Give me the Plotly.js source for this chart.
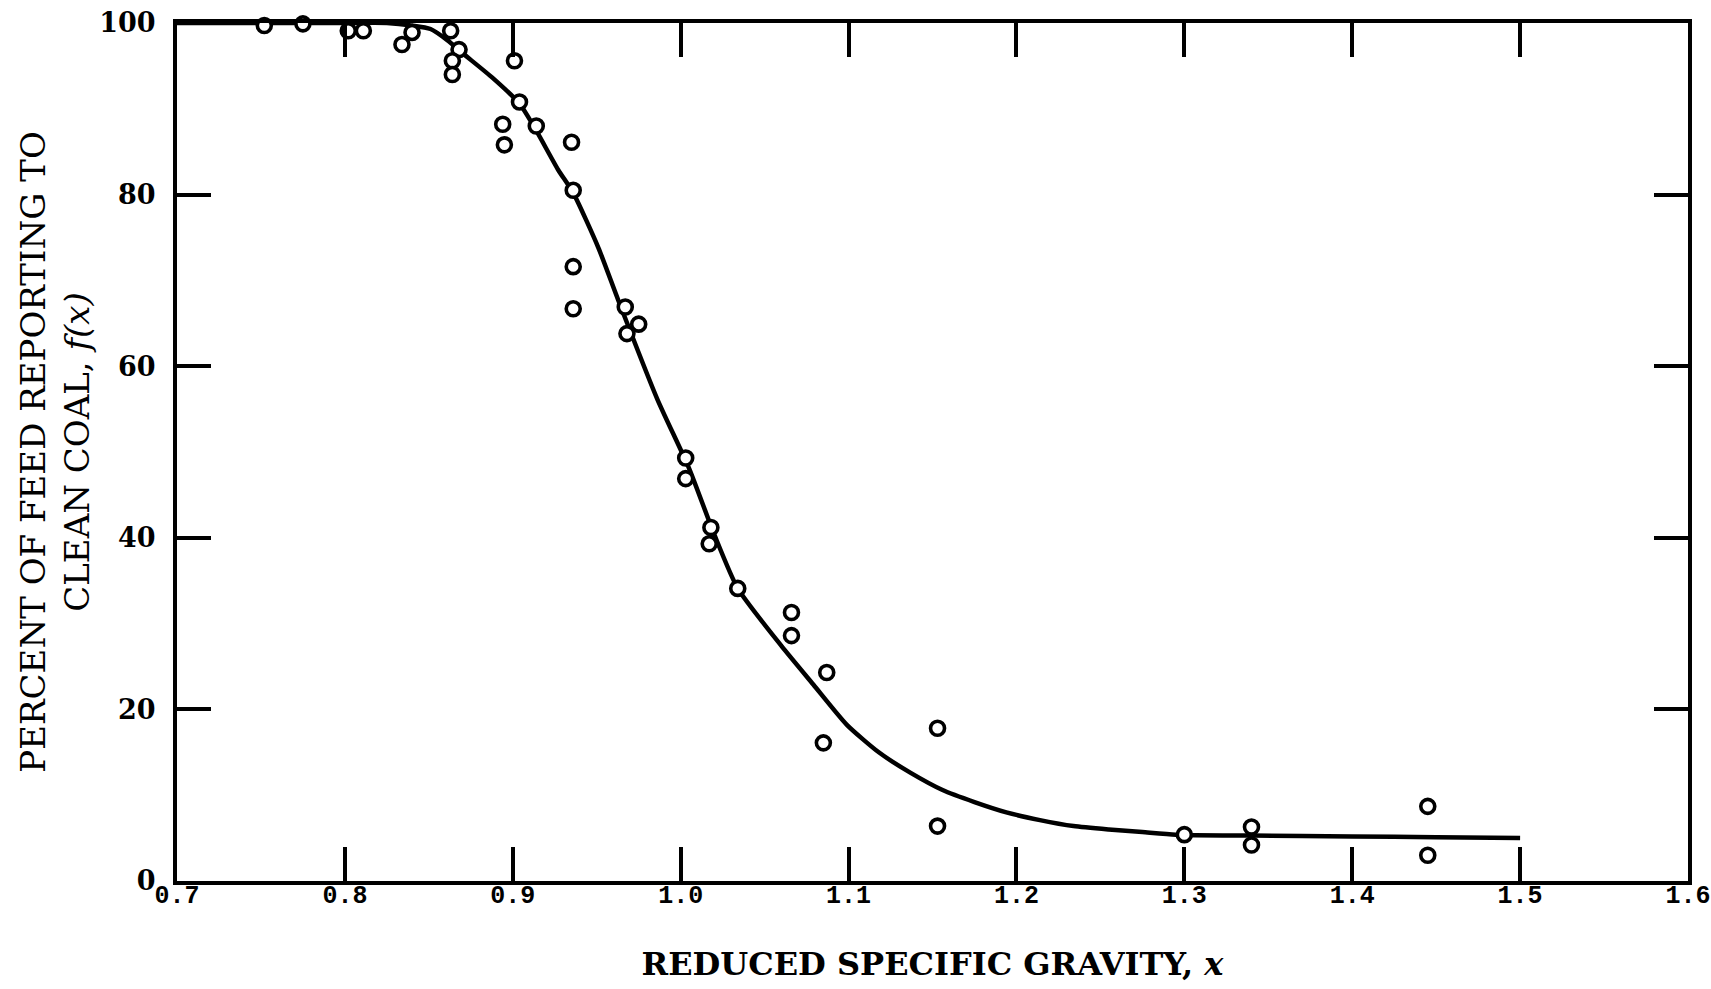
<!DOCTYPE html>
<html>
<head>
<meta charset="utf-8">
<script src="https://cdn.plot.ly/plotly-3.0.1.min.js"></script>
<style>
html,body{margin:0;padding:0;background:#ffffff;}
#chart{width:1711px;height:989px;}
</style>
</head>
<body>
<div id="chart"></div>
<script>
// Tick values and labels
const xTickVals = [0.7, 0.8, 0.9, 1.0, 1.1, 1.2, 1.3, 1.4, 1.5, 1.6];
const xTickLabels = ['0.7', '0.8', '0.9', '1.0', '1.1', '1.2', '1.3', '1.4', '1.5', '1.6'];
const yTickVals = [0, 20, 40, 60, 80, 100];
const yTickLabels = ['0', '20', '40', '60', '80', '100'];

// Measured data points (reduced specific gravity, percent of feed to clean coal)
const pointsX = [0.752, 0.775, 0.802, 0.802, 0.811, 0.834, 0.840, 0.834, 0.863, 0.868,
                 0.864, 0.864, 0.901, 0.904, 0.894, 0.914, 0.895, 0.935, 0.936, 0.936,
                 0.936, 0.967, 0.975, 0.968, 1.003, 1.003, 1.018, 1.017, 1.034, 1.066,
                 1.066, 1.087, 1.085, 1.153, 1.153, 1.300, 1.340, 1.340, 1.445, 1.445];
const pointsY = [99.7, 99.9, 100.5, 99.1, 99.1, 100.4, 98.9, 97.5, 99.1, 96.9,
                 95.6, 94.0, 95.6, 90.8, 88.2, 88.0, 85.8, 86.1, 80.5, 71.6,
                 66.7, 66.9, 64.9, 63.8, 49.3, 46.9, 41.2, 39.3, 34.1, 31.3,
                 28.6, 24.3, 16.1, 17.8, 6.4, 5.4, 6.3, 4.2, 8.7, 3.0];

// Fitted partition curve f(x)
const curveX = [0.70, 0.76, 0.80, 0.825, 0.840, 0.851, 0.861, 0.870, 0.888, 0.904,
                0.913, 0.927, 0.936, 0.951, 0.963, 0.986, 1.005, 1.020, 1.034, 1.060,
                1.079, 1.099, 1.118, 1.137, 1.156, 1.175, 1.194, 1.214, 1.234, 1.255,
                1.275, 1.295, 1.34, 1.40, 1.45, 1.50];
const curveY = [100, 100, 100, 100, 99.7, 99.3, 98.0, 96.5, 93.6, 90.6,
                87.8, 82.9, 80.2, 73.8, 67.6, 56.2, 48.1, 40.4, 34.1, 27.4,
                22.9, 18.2, 15.0, 12.6, 10.6, 9.2, 8.0, 7.1, 6.4, 6.0,
                5.7, 5.4, 5.3, 5.2, 5.1, 5.0];

const curve = {
  x: curveX, y: curveY,
  type: 'scatter', mode: 'lines',
  line: {color: '#000000', width: 4.5, shape: 'spline', smoothing: 0.6},
  hoverinfo: 'skip', showlegend: false, cliponaxis: false
};

const points = {
  x: pointsX, y: pointsY,
  type: 'scatter', mode: 'markers',
  marker: {symbol: 'circle', size: 14, color: '#ffffff', line: {color: '#000000', width: 3.6}},
  showlegend: false, cliponaxis: false
};

const axisCommon = {
  showgrid: false, zeroline: false,
  showline: true, linecolor: '#000000', linewidth: 4,
  mirror: 'ticks', ticks: 'inside', ticklen: 34, tickwidth: 4, tickcolor: '#000000',
  fixedrange: true
};

const layout = {
  width: 1711, height: 989,
  paper_bgcolor: '#ffffff', plot_bgcolor: '#ffffff',
  margin: {l: 177, r: 23, t: 23, b: 108, autoexpand: false},
  showlegend: false,
  xaxis: Object.assign({}, axisCommon, {
    range: [0.7, 1.6],
    tickmode: 'array', tickvals: xTickVals, ticktext: xTickLabels,
    tickfont: {family: 'Liberation Mono, monospace', size: 25, color: '#000000', weight: 'bold'},
    ticklabelstandoff: -12,
    ticklabeloverflow: 'allow',
    title: {
      text: 'REDUCED SPECIFIC GRAVITY, <i>x</i>',
      font: {family: 'DejaVu Serif, serif', size: 32, color: '#000000', weight: 'bold'},
      standoff: 44
    },
    automargin: false
  }),
  yaxis: Object.assign({}, axisCommon, {
    range: [0, 100],
    tickmode: 'array', tickvals: yTickVals, ticktext: yTickLabels,
    tickfont: {family: 'DejaVu Serif, serif', size: 27, color: '#000000', weight: 'bold'},
    ticklabelstandoff: 12,
    title: {
      text: 'PERCENT OF FEED REPORTING TO<br>CLEAN COAL, <i>f(x)</i>',
      font: {family: 'DejaVu Serif, serif', size: 34, color: '#000000'},
      standoff: 0
    },
    automargin: false
  })
};

Plotly.newPlot('chart', [curve, points], layout, {staticPlot: true, displayModeBar: false});
</script>
</body>
</html>
